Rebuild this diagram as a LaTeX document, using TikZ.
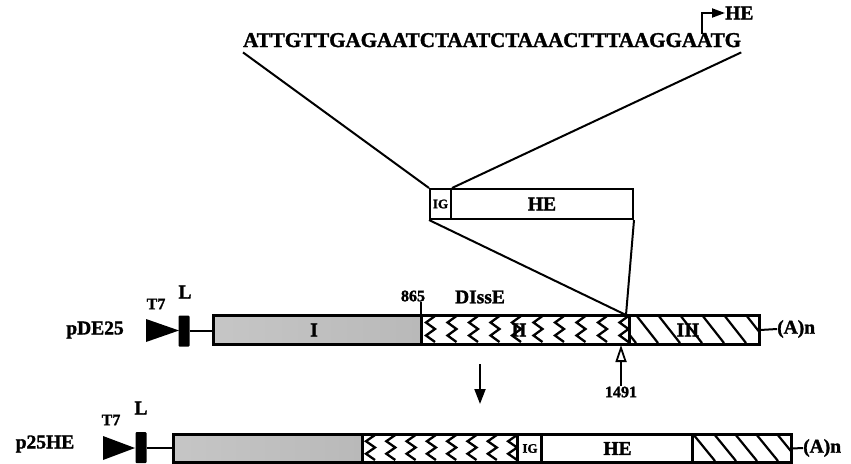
\documentclass[tikz,border=0pt]{standalone}
\usepackage{fontspec}
\setmainfont{Liberation Serif}[BoldFeatures={FakeBold=1.6}]
\usetikzlibrary{arrows.meta}
\newcommand\bfsz[1]{\fontsize{#1}{#1}\selectfont\bfseries}
\tikzset{
  seg/.style={draw, line width=2pt, minimum height=28pt, inner sep=0pt, anchor=north west},
  lab/.style={font=\bfsz{19.5}, inner sep=0pt},
  smalllab/.style={font=\bfsz{16}, inner sep=0pt},
  conn/.style={line width=2pt},
  zz/.style={line width=2.3pt, line join=miter},
  hatch/.style={line width=2.2pt},
  lblock/.style={fill=black, minimum width=11pt, minimum height=31pt, inner sep=0pt, rounded corners=1pt},
  shadeseg/.style={seg, left color=gray!45, middle color=gray!70, right color=gray!55},
}
\begin{document}
\begin{tikzpicture}[x=1pt,y=-1pt]
\useasboundingbox (0,0) rectangle (851,463);

% ---------- top sequence ----------
\node[font=\bfsz{21}, inner xsep=0pt, inner ysep=5pt, anchor=base west] (seq) at (243,47)
  {ATTGTTGAGAATCTAATCTAAACTTTAAGGAATG};
\node[lab, anchor=west] (he0) at (725,13) {HE};
\coordinate (hb) at (702,34);
\draw[conn, -{Triangle[length=13pt,width=9pt]}] (hb) |- (he0.west);

% ---------- insert box ----------
\node[draw, line width=2pt, minimum width=21pt, minimum height=30pt, inner sep=0pt,
      anchor=north west, font=\bfsz{13}] (ig) at (429,188) {IG};
\node[draw, line width=2pt, minimum width=182pt, minimum height=30pt, inner sep=0pt,
      anchor=north west, font=\bfsz{19.5}] (he) at (450,188) {HE};

% ---------- pDE25 ----------
\node[shadeseg, minimum width=208pt] (r1) at (213,315) {};
\node[seg, minimum width=208pt] (r2) at (421,315) {};
\node[seg, minimum width=129pt] (r3) at (629,315) {};

\foreach \i in {0,...,9}{
  \pgfmathsetmacro\xx{425+21.5*\i}
  \draw[zz] (\xx+10,316) -- (\xx+1,322.5) -- (\xx+10,329) -- (\xx+1,335.5) -- (\xx+10,342);
}
\begin{scope}
  \clip (r3.north west) rectangle (r3.south east);
  \foreach \x in {614,636,...,746}{
    \draw[hatch] (\x,315) -- (\x+22,343);
  }
\end{scope}
\draw[line width=2pt] (r1.north west) rectangle (r3.south east);
\draw[line width=2pt] (r2.north west) -- (r2.south west);
\draw[line width=2pt] (r3.north west) -- (r3.south west);

\node[lab] at (314,330) {I};
\node[lab] at (519,330) {II};
\node[lab] at (688,330) {III};

\node[lab] (p1) at (95,330) {pDE25};
\fill (146,319) -- (179,330.5) -- (146,342) -- cycle;
\node[lblock] (L1) at (184,331) {};
\draw[conn] (L1.east) -- (L1.east -| r1.west);
\node[smalllab] (t71) at (156,304) {T7};
\node[lab] (l1) at (185,292) {L};

\node[smalllab] (n865) at (413,296) {865};
\draw[conn] (r2.north west) -- (n865.south -| r2.north west);
\node[lab] (dis) at (480,297) {DIssE};

\node[lab, anchor=west] (an1) at (777,329) {(A)n};
\draw[conn] (r3.east) -- (an1.west);

\node[smalllab] (n1491) at (621,392) {1491};
\coordinate (tip) at (621,345);
\draw[conn, -{Triangle[open, length=17pt, width=11pt, line width=1.8pt]}] (n1491.north) -- (tip);

% ---------- expansion lines ----------
\coordinate (j) at (626,315);
\draw[conn] (seq.south west) -- (ig.north west);
\draw[conn] (seq.south east) -- (ig.north east);
\draw[conn] (ig.south west) -- (j);
\draw[conn] (he.south east) -- (j);

% ---------- down arrow ----------
\coordinate (d1) at (480,364);
\coordinate (d2) at (480,404);
\draw[conn, -{Triangle[length=15pt,width=11pt]}] (d1) -- (d2);

% ---------- p25HE ----------
\node[shadeseg, minimum width=189pt, minimum height=27pt] (s1) at (173,434) {};
\node[seg, minimum width=155pt, minimum height=27pt] (s2) at (362,434) {};
\node[seg, minimum width=24pt, minimum height=27pt, font=\bfsz{13}] (s3) at (517,434) {IG};
\node[seg, minimum width=151pt, minimum height=27pt, font=\bfsz{19.5}] (s4) at (541,434) {HE};
\node[seg, minimum width=98pt, minimum height=27pt] (s5) at (692,434) {};

\foreach \i in {0,...,7}{
  \pgfmathsetmacro\xx{365+20.3*\i}
  \draw[zz] (\xx+10,435) -- (\xx+1,441.25) -- (\xx+10,447.5) -- (\xx+1,453.75) -- (\xx+10,460);
}
\begin{scope}
  \clip (s5.north west) rectangle (s5.south east);
  \foreach \x in {693,714,...,790}{
    \draw[hatch] (\x,434) -- (\x+22,461);
  }
\end{scope}
\draw[line width=2pt] (s1.north west) rectangle (s5.south east);
\foreach \n in {s2,s3,s4,s5}{
  \draw[line width=2pt] (\n.north west) -- (\n.south west);
}

\node[lab] (p2) at (45,444) {p25HE};
\fill (103,436) -- (135,448) -- (103,460) -- cycle;
\node[lblock] (L2) at (141,447.5) {};
\draw[conn] (L2.east) -- (L2.east -| s1.west);
\node[smalllab] (t72) at (111,420) {T7};
\node[lab] (l2) at (141,408) {L};

\node[lab, anchor=west] (an2) at (803,448) {(A)n};
\draw[conn] (s5.east) -- (an2.west);
\end{tikzpicture}
\end{document}
